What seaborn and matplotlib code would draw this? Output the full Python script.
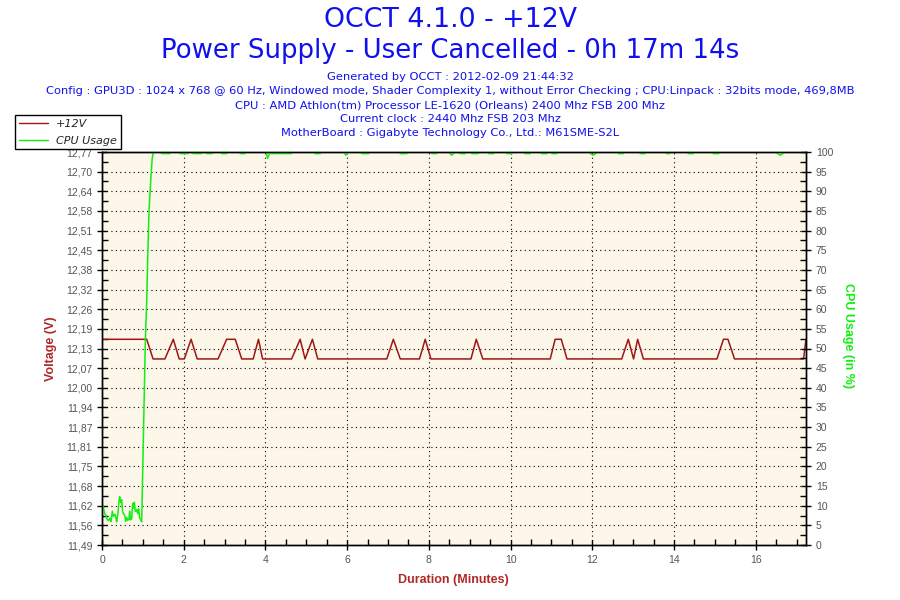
import matplotlib
matplotlib.use("Agg")
import matplotlib.pyplot as plt
from matplotlib.ticker import AutoMinorLocator
from matplotlib.lines import Line2D
import seaborn as sns
import pandas as pd

title_lines = ["OCCT 4.1.0 - +12V", "Power Supply - User Cancelled - 0h 17m 14s"]
info_lines = [
    "Generated by OCCT : 2012-02-09 21:44:32",
    "Config : GPU3D : 1024 x 768 @ 60 Hz, Windowed mode, Shader Complexity 1, without Error Checking ; CPU:Linpack : 32bits mode, 469,8MB",
    "CPU : AMD Athlon(tm) Processor LE-1620 (Orleans) 2400 Mhz FSB 200 Mhz",
    "Current clock : 2440 Mhz FSB 203 Mhz",
    "MotherBoard : Gigabyte Technology Co., Ltd.: M61SME-S2L",
]

volt_tick_labels = ["11,49", "11,56", "11,62", "11,68", "11,75", "11,81", "11,87",
                    "11,94", "12,00", "12,07", "12,13", "12,19", "12,26", "12,32",
                    "12,38", "12,45", "12,51", "12,58", "12,64", "12,70", "12,77"]
volt_min, volt_max = 11.49, 12.77
cpu_ticks = [0, 5, 10, 15, 20, 25, 30, 35, 40, 45, 50, 55, 60, 65, 70, 75, 80, 85, 90, 95, 100]
x_ticks = [0, 2, 4, 6, 8, 10, 12, 14, 16]
duration = 17.23  # 17m 14s

# +12V readings (minutes, volts)
H, L = 12.16, 12.096
volt_time = [0, 1.094, 1.25, 1.54, 1.745, 1.89, 2.015, 2.18, 2.33, 2.84, 3.05, 3.26, 3.42,
             3.70, 3.83, 3.93, 4.64, 4.85, 4.97, 5.15, 5.28, 6.97, 7.13, 7.30, 7.77, 7.91,
             8.05, 9.03, 9.16, 9.32, 10.97, 11.09, 11.24, 11.38, 12.72, 12.88, 13.01, 13.11,
             13.25, 15.05, 15.21, 15.32, 15.48, 17.17, 17.23]
volt_value = [H, H, L, L, H, L, L, H, L, L, H, H, L,
              L, H, L, L, H, L, H, L, L, H, L, L, H,
              L, L, H, L, L, H, H, L, L, H, L, H,
              L, L, H, H, L, L, H]

# CPU usage: idle start and ramp-up (minutes, %)
cpu_start_time = [0.0, 0.033, 0.065, 0.098, 0.114, 0.155, 0.196, 0.220, 0.253, 0.277, 0.318,
                  0.343, 0.359, 0.392, 0.416, 0.432, 0.457, 0.481, 0.506, 0.530, 0.555, 0.579,
                  0.604, 0.628, 0.661, 0.677, 0.694, 0.726, 0.751, 0.775, 0.792, 0.816, 0.849,
                  0.873, 0.897, 0.922, 0.946, 0.971, 0.987, 1.011, 1.036, 1.06, 1.094, 1.119,
                  1.15, 1.2, 1.23, 1.256]
cpu_start_value = [10.5, 9.7, 8.0, 7.5, 6.8, 6.2, 6.8, 6.0, 8.6, 7.3, 7.8,
                   6.8, 5.9, 8.3, 11.2, 12.3, 10.8, 11.5, 8.4, 7.9, 7.6, 6.0,
                   7.0, 6.3, 6.6, 8.6, 6.4, 6.6, 10.6, 9.4, 10.9, 8.5, 9.0,
                   8.0, 9.2, 6.8, 6.5, 5.9, 13.6, 26.3, 39.0, 51.7, 61.9, 73.0,
                   84.8, 94.1, 98.5, 99.7]
# short flat dips just under 100 % while loaded (start, end, %)
cpu_flat_dips = [(1.46, 1.66, 99.6), (1.91, 2.11, 99.6), (2.23, 2.44, 99.6), (2.56, 2.69, 99.6),
                 (2.93, 3.05, 99.6), (3.38, 3.50, 99.6), (4.15, 4.64, 99.6), (5.21, 5.34, 99.6),
                 (6.36, 6.52, 99.6), (7.30, 7.46, 99.6), (8.07, 8.19, 99.6), (8.76, 8.89, 99.6),
                 (9.05, 9.21, 99.6), (9.46, 9.58, 99.6), (9.91, 10.03, 99.6), (10.35, 10.48, 99.6),
                 (10.76, 10.89, 99.6), (11.01, 11.13, 99.6), (12.64, 12.76, 99.6),
                 (13.17, 13.29, 99.6), (13.82, 13.90, 99.6), (14.35, 14.47, 99.6),
                 (14.96, 15.09, 99.6)]
# single-reading dips (start, lowest point, end, %)
cpu_v_dips = [(4.02, 4.05, 4.12, 98.4), (5.91, 5.97, 6.03, 99.2), (8.48, 8.56, 8.64, 99.2),
              (11.90, 12.02, 12.14, 99.2), (16.47, 16.60, 16.72, 99.2)]

cpu_points = list(zip(cpu_start_time, cpu_start_value)) + [(1.3, 100)]
for start, end, low in cpu_flat_dips:
    cpu_points += [(start - 0.02, 100), (start, low), (end, low), (end + 0.02, 100)]
for start, mid, end, low in cpu_v_dips:
    cpu_points += [(start, 100), (mid, low), (end, 100)]
cpu_points.append((duration, 100))
cpu_points.sort()

volt_df = pd.DataFrame({"minutes": volt_time, "volts": volt_value})
cpu_df = pd.DataFrame(cpu_points, columns=["minutes", "usage"])

sns.set_style("white")
plt.rcParams["font.family"] = ["Liberation Sans", "DejaVu Sans"]

blue = "#1010ee"
red = "#a01414"
label_red = "#b02828"
green = "#11ee11"
tick_grey = "#555555"

fig = plt.figure(figsize=(9, 6), dpi=100, facecolor="white")
ax = fig.add_axes([102 / 900, 1 - 545 / 600, 704 / 900, 393 / 600])
ax.set_facecolor("#fdf7e9")

sns.lineplot(data=volt_df, x="minutes", y="volts", ax=ax, color=red, lw=1.1, estimator=None)
ax2 = ax.twinx()
sns.lineplot(data=cpu_df, x="minutes", y="usage", ax=ax2, color=green, lw=1.1,
             estimator=None, sort=False)

ax.set_xlim(0, duration)
ax.set_ylim(volt_min, volt_max)
ax2.set_ylim(0, 100)

ax.set_xticks(x_ticks)
ax.xaxis.set_minor_locator(AutoMinorLocator(4))
step = (volt_max - volt_min) / (len(volt_tick_labels) - 1)
ax.set_yticks([volt_min + i * step for i in range(len(volt_tick_labels))])
ax.set_yticklabels(volt_tick_labels)
ax.yaxis.set_minor_locator(AutoMinorLocator(2))
ax2.set_yticks(cpu_ticks)
ax2.yaxis.set_minor_locator(AutoMinorLocator(2))

for a in (ax, ax2):
    a.tick_params(which="major", direction="inout", length=7, width=1, color="black",
                  labelcolor=tick_grey, labelsize=7.5)
    a.tick_params(which="minor", direction="in", length=4, width=1, color="black")
    for s in a.spines.values():
        s.set_color("black")
        s.set_linewidth(1.0)
        s.set_zorder(5)
ax.tick_params(axis="y", which="both", left=True, right=False)
ax.tick_params(axis="x", which="both", bottom=True, top=False)
ax2.tick_params(axis="y", which="both", right=True, left=False)

ax.grid(True, which="major", color="black", linestyle=(0, (1, 3)), linewidth=0.8)

ax.set_xlabel("Duration (Minutes)", color=label_red, fontweight="bold", fontsize=9, va="center")
ax.xaxis.set_label_coords(351 / 704, -35 / 393)
ax.set_ylabel("Voltage (V)", color=label_red, fontweight="bold", fontsize=9, va="center")
ax.yaxis.set_label_coords(-51 / 704, 0.5)
ax2.set_ylabel("CPU Usage (in %)", color=green, fontweight="bold", fontsize=9,
               rotation=270, va="center")
ax2.yaxis.set_label_coords(746 / 704, 0.534)

fig.text(0.5, 1 - 20 / 600, title_lines[0], ha="center", va="center", color=blue,
         fontsize=19.3, family="DejaVu Sans")
fig.text(0.5, 1 - 51 / 600, title_lines[1], ha="center", va="center", color=blue,
         fontsize=18.7, family="DejaVu Sans")
for i, line in enumerate(info_lines):
    fig.text(0.5, 1 - (77 + 14 * i) / 600, line, ha="center", va="center", color=blue,
             fontsize=8.25, family="DejaVu Sans")

handles = [Line2D([], [], color=red, lw=1), Line2D([], [], color=green, lw=1)]
leg = fig.legend(handles, ["+12V", "CPU Usage"], loc="upper left",
                 bbox_to_anchor=(15 / 900, 1 - 115 / 600), frameon=True, fancybox=False,
                 edgecolor="black", framealpha=1, borderaxespad=0,
                 prop={"family": "DejaVu Sans", "style": "italic", "size": 8},
                 handlelength=2.6, handletextpad=0.75, labelspacing=0.6, borderpad=0.35)
leg.get_frame().set_linewidth(1.0)

fig.savefig("out.png", dpi=100)
